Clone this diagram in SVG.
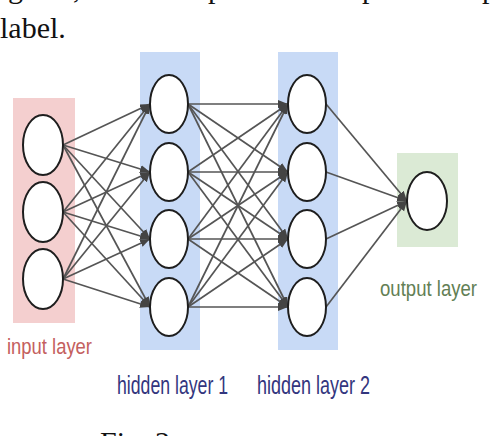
<svg xmlns="http://www.w3.org/2000/svg" width="494" height="436" viewBox="0 0 494 436">
<style>
.paper{font-family:"Liberation Serif","Times New Roman",serif;font-size:30px;fill:#111}
.lab{font-family:"Liberation Sans",Arial,sans-serif}
.node{fill:#fff;stroke:#1e1e1e;stroke-width:2}
.conn line{stroke:#555;stroke-width:1.7;marker-end:url(#arr)}
</style>
<defs>
<marker id="arr" markerUnits="userSpaceOnUse" markerWidth="11" markerHeight="9" refX="10" refY="4" orient="auto">
<path d="M0,0 L10,4 L0,8 z" fill="#444"/>
</marker>
</defs>
<rect width="494" height="436" fill="#fff"/>
<!-- caption text of the page, cut off by the crop -->
<text class="paper" x="8" y="-2">g</text>
<text class="paper" x="73" y="-2">,</text>
<text class="paper" x="208" y="-2">p</text>
<text class="paper" x="362" y="-2">p</text>
<text class="paper" x="482" y="-2">p</text>
<text class="paper" x="0" y="38">label.</text>
<text class="paper" x="100" y="452">Fig. 2</text>
<!-- layer backgrounds -->
<g id="layer-input"><rect x="13" y="98" width="62" height="225" fill="#f4cfcf"/></g>
<g id="layer-hidden1"><rect x="140" y="52" width="60" height="298" fill="#c8daf6"/></g>
<g id="layer-hidden2"><rect x="278" y="52" width="60" height="298" fill="#c8daf6"/></g>
<g id="layer-output"><rect x="397" y="153" width="61" height="94" fill="#dbead5"/></g>
<!-- connectors -->
<g id="connectors" class="conn">
<line x1="63" y1="145" x2="150" y2="104"/><line x1="63" y1="145" x2="150" y2="172"/><line x1="63" y1="145" x2="150" y2="239"/><line x1="63" y1="145" x2="150" y2="307"/>
<line x1="63" y1="212" x2="150" y2="104"/><line x1="63" y1="212" x2="150" y2="172"/><line x1="63" y1="212" x2="150" y2="239"/><line x1="63" y1="212" x2="150" y2="307"/>
<line x1="63" y1="279" x2="150" y2="104"/><line x1="63" y1="279" x2="150" y2="172"/><line x1="63" y1="279" x2="150" y2="239"/><line x1="63" y1="279" x2="150" y2="307"/>
<line x1="188" y1="104" x2="288" y2="104"/><line x1="188" y1="104" x2="288" y2="172"/><line x1="188" y1="104" x2="288" y2="239"/><line x1="188" y1="104" x2="288" y2="307"/>
<line x1="188" y1="172" x2="288" y2="104"/><line x1="188" y1="172" x2="288" y2="172"/><line x1="188" y1="172" x2="288" y2="239"/><line x1="188" y1="172" x2="288" y2="307"/>
<line x1="188" y1="239" x2="288" y2="104"/><line x1="188" y1="239" x2="288" y2="172"/><line x1="188" y1="239" x2="288" y2="239"/><line x1="188" y1="239" x2="288" y2="307"/>
<line x1="188" y1="307" x2="288" y2="104"/><line x1="188" y1="307" x2="288" y2="172"/><line x1="188" y1="307" x2="288" y2="239"/><line x1="188" y1="307" x2="288" y2="307"/>
<line x1="326" y1="104" x2="407" y2="201"/><line x1="326" y1="172" x2="407" y2="201"/><line x1="326" y1="239" x2="407" y2="201"/><line x1="326" y1="307" x2="407" y2="201"/>
</g>
<!-- nodes -->
<g id="in1"><ellipse class="node" cx="43" cy="145" rx="20" ry="30"/></g>
<g id="in2"><ellipse class="node" cx="43" cy="212" rx="20" ry="30"/></g>
<g id="in3"><ellipse class="node" cx="43" cy="279" rx="20" ry="30"/></g>
<g id="h1a"><ellipse class="node" cx="169" cy="104" rx="19" ry="29"/></g>
<g id="h1b"><ellipse class="node" cx="169" cy="172" rx="19" ry="29"/></g>
<g id="h1c"><ellipse class="node" cx="169" cy="239" rx="19" ry="29"/></g>
<g id="h1d"><ellipse class="node" cx="169" cy="307" rx="19" ry="29"/></g>
<g id="h2a"><ellipse class="node" cx="307" cy="104" rx="19" ry="29"/></g>
<g id="h2b"><ellipse class="node" cx="307" cy="172" rx="19" ry="29"/></g>
<g id="h2c"><ellipse class="node" cx="307" cy="239" rx="19" ry="29"/></g>
<g id="h2d"><ellipse class="node" cx="307" cy="307" rx="19" ry="29"/></g>
<g id="out1"><ellipse class="node" cx="427" cy="201" rx="20" ry="29"/></g>
<!-- labels -->
<text class="lab" x="7" y="354" font-size="22" textLength="85" lengthAdjust="spacingAndGlyphs" fill="#c4605e">input layer</text>
<text class="lab" x="117" y="394" font-size="26" textLength="111" lengthAdjust="spacingAndGlyphs" fill="#33367e">hidden layer 1</text>
<text class="lab" x="257" y="394" font-size="26" textLength="113" lengthAdjust="spacingAndGlyphs" fill="#33367e">hidden layer 2</text>
<text class="lab" x="380" y="296" font-size="22" textLength="97" lengthAdjust="spacingAndGlyphs" fill="#637f55">output layer</text>
</svg>
